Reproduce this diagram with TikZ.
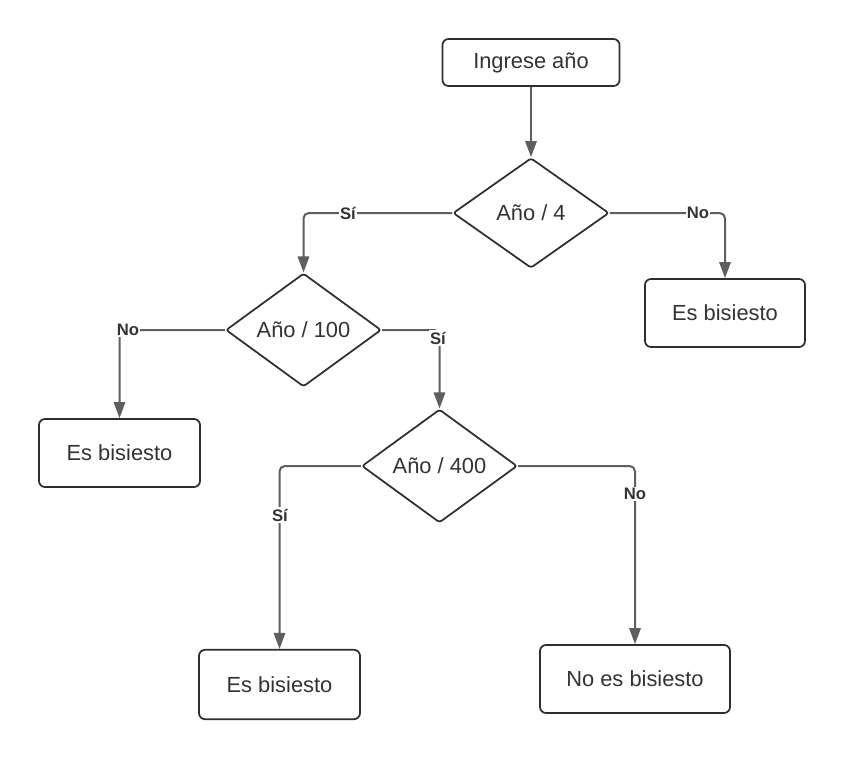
\documentclass[tikz,border=0pt]{standalone}
\usepackage{fontspec}
\setmainfont{Liberation Sans}
\usetikzlibrary{shapes.geometric,arrows.meta}
\definecolor{edgegray}{HTML}{5E5E5E}
\definecolor{boxline}{HTML}{2E2E2E}
\definecolor{txt}{HTML}{333333}
\tikzset{
  boxnode/.style={draw=boxline, line width=1.3pt, rounded corners=4.5pt, inner sep=0pt, text=txt,
    font=\fontsize{16.4}{19}\selectfont},
  decnode/.style={draw=boxline, diamond, line width=1.3pt, rounded corners=2pt, inner sep=0pt, text=txt,
    minimum width=116.5pt, minimum height=85pt, font=\fontsize{16.4}{19}\selectfont},
  conn/.style={draw=edgegray, line width=1.5pt, rounded corners=4pt, -{Triangle[length=12pt,width=8.5pt]}},
  lbl/.style={fill=white, inner sep=1pt, text=txt, font=\fontsize{12.5}{14}\selectfont\bfseries}
}
\begin{document}
\begin{tikzpicture}[x=0.75pt,y=-0.75pt]
\useasboundingbox (0,0) rectangle (846,758);
\fill[white] (0,0) rectangle (846,758);

\node[boxnode, minimum width=132.75pt, minimum height=35.25pt] (in) at (531,62.5) {Ingrese año};
\node[decnode, minimum width=117pt, minimum height=82.5pt] (d1) at (531,213) {Año / 4};
\node[decnode] (d2) at (303.5,330) {Año / 100};
\node[decnode] (d3) at (439.5,466) {Año / 400};

\node[boxnode, minimum width=120pt, minimum height=51pt] (b1) at (725,313) {Es bisiesto};
\node[boxnode, minimum width=120.75pt, minimum height=51pt] (b2) at (119.5,453) {Es bisiesto};
\node[boxnode, minimum width=120.75pt, minimum height=52pt] (b3) at (279.5,684.5) {Es bisiesto};
\node[boxnode, minimum width=142.5pt, minimum height=51pt] (b4) at (635,679) {No es bisiesto};

\draw[conn] (in.south) -- (d1.north);
\draw[conn] (d1.west) -| (d2.north);
\draw[conn] (d1.east) -| (b1.north);
\draw[conn] (d2.west) -| (b2.north);
\draw[conn] (d2.east) -| (d3.north);
\draw[conn] (d3.west) -| (b3.north);
\draw[conn] (d3.east) -| (b4.north);

\node[lbl] (l1) at (348,213) {Sí};
\node[lbl] (l2) at (698,213) {No};
\node[lbl] (l3) at (128,330) {No};
\node[lbl] (l4) at (438,338) {Sí};
\node[lbl] (l5) at (280,515) {Sí};
\node[lbl] (l6) at (635,494) {No};
\end{tikzpicture}
\end{document}
